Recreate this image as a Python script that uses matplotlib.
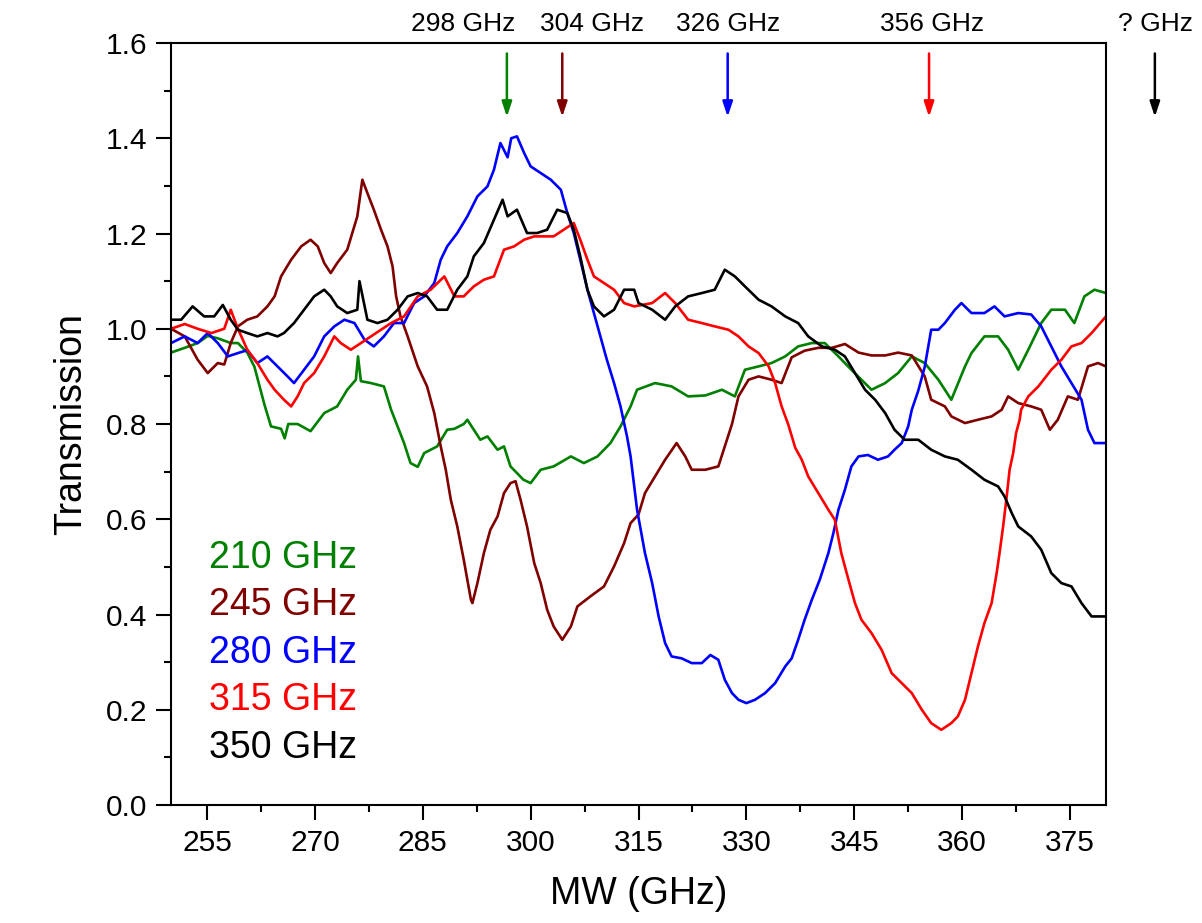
import numpy as np
import matplotlib
matplotlib.use('Agg')
import matplotlib.pyplot as plt

plt.rcParams['font.family'] = ['Liberation Sans', 'DejaVu Sans']

# ---- data (MW frequency in GHz, transmission) ----
f_210 = [250.0, 251.9, 253.7, 255.1, 256.5, 258.3, 259.3, 260.6, 261.6, 263.0, 263.9, 265.3, 265.8, 266.3,
         267.6, 269.4, 271.3, 273.1, 274.5, 275.7, 276.0, 276.4, 277.8, 279.6, 280.6, 282.4, 283.3, 284.3,
         285.2, 287.0, 288.4, 289.4, 290.7, 291.2, 293.0, 294.0, 295.4, 296.3, 297.2, 299.0, 300.0, 301.4,
         303.2, 305.6, 307.4, 309.3, 311.1, 312.5, 313.9, 314.8, 317.3, 319.6, 321.9, 324.3, 326.6, 328.4,
         329.8, 331.7, 333.5, 335.4, 337.2, 339.1, 340.9, 342.8, 344.6, 347.4, 349.3, 351.1, 353.0, 354.8,
         356.7, 358.5, 360.4, 361.3, 363.1, 365.0, 366.4, 367.8, 369.2, 371.0, 372.4, 374.3, 375.6, 377.0,
         378.4, 380.0]
t_210 = [0.95, 0.96, 0.97, 0.985, 0.98, 0.97, 0.97, 0.95, 0.92, 0.84, 0.795, 0.79, 0.77, 0.80,
         0.80, 0.785, 0.823, 0.837, 0.872, 0.893, 0.942, 0.89, 0.886, 0.879, 0.83, 0.76, 0.718, 0.71,
         0.739, 0.753, 0.788, 0.79, 0.80, 0.809, 0.767, 0.774, 0.746, 0.753, 0.711, 0.683, 0.676, 0.704,
         0.711, 0.732, 0.718, 0.732, 0.76, 0.795, 0.837, 0.872, 0.886, 0.879, 0.858, 0.86, 0.872, 0.858,
         0.914, 0.921, 0.928, 0.942, 0.963, 0.97, 0.97, 0.942, 0.914, 0.872, 0.886, 0.907, 0.942, 0.928,
         0.893, 0.851, 0.921, 0.949, 0.984, 0.984, 0.956, 0.914, 0.956, 1.012, 1.04, 1.04, 1.012, 1.068,
         1.082, 1.075]

f_245 = [250.0, 251.9, 253.7, 255.1, 256.5, 257.4, 258.3, 259.3, 260.6, 262.0, 263.4, 264.4, 265.3, 266.7,
         268.1, 269.4, 270.4, 271.3, 272.2, 273.1, 274.5, 275.9, 276.6, 277.3, 278.2, 279.2, 280.1, 280.8,
         281.3, 281.9, 282.9, 284.3, 285.6, 286.6, 287.5, 288.2, 288.9, 289.8, 290.7, 291.7, 291.9, 292.6,
         293.5, 294.4, 295.4, 296.3, 297.2, 297.9, 298.6, 299.5, 300.5, 301.4, 302.3, 303.2, 304.4, 305.6,
         306.5, 308.3, 310.2, 311.6, 313.0, 313.9, 315.0, 315.9, 317.3, 318.7, 320.3, 321.5, 322.4, 324.3,
         326.1, 327.0, 328.0, 328.9, 330.3, 331.7, 333.5, 334.9, 336.3, 338.1, 340.0, 341.9, 343.7, 345.6,
         347.4, 349.3, 351.1, 353.0, 354.8, 355.7, 357.6, 358.5, 360.4, 362.2, 364.1, 365.5, 366.4, 367.8,
         369.6, 371.0, 372.2, 373.3, 374.7, 376.1, 377.5, 378.9, 380.0]
t_245 = [1.0, 0.984, 0.935, 0.907, 0.928, 0.925, 0.97, 1.005, 1.019, 1.026, 1.047, 1.068, 1.11, 1.145,
         1.173, 1.187, 1.173, 1.138, 1.117, 1.138, 1.166, 1.236, 1.313, 1.285, 1.25, 1.208, 1.173, 1.131,
         1.068, 1.026, 0.984, 0.921, 0.879, 0.823, 0.753, 0.704, 0.641, 0.585, 0.515, 0.431, 0.424, 0.466,
         0.529, 0.578, 0.606, 0.655, 0.676, 0.68, 0.641, 0.585, 0.508, 0.466, 0.41, 0.375, 0.347, 0.375,
         0.417, 0.438, 0.459, 0.501, 0.55, 0.592, 0.61, 0.655, 0.69, 0.725, 0.76, 0.732, 0.704, 0.704,
         0.711, 0.753, 0.80, 0.858, 0.893, 0.90, 0.893, 0.886, 0.94, 0.954, 0.96, 0.96, 0.968, 0.95,
         0.944, 0.944, 0.95, 0.944, 0.90, 0.851, 0.837, 0.816, 0.802, 0.809, 0.816, 0.83, 0.858, 0.844,
         0.837, 0.83, 0.788, 0.809, 0.858, 0.851, 0.921, 0.928, 0.921]

f_280 = [250.0, 251.9, 253.7, 255.1, 256.5, 257.9, 259.3, 260.6, 262.0, 263.4, 264.8, 266.2, 267.1, 268.5,
         269.9, 271.3, 272.7, 274.1, 275.5, 276.9, 278.2, 279.6, 281.0, 282.4, 283.8, 285.2, 286.6, 287.5,
         288.4, 289.8, 291.2, 292.6, 294.0, 294.9, 295.8, 296.8, 297.3, 298.1, 299.1, 300.0, 301.4, 302.8,
         304.2, 305.1, 306.0, 306.9, 307.9, 308.8, 309.7, 310.6, 311.6, 312.5, 313.4, 313.9, 314.8, 315.9,
         316.9, 317.8, 318.7, 319.6, 321.0, 322.4, 323.8, 325.0, 326.1, 327.0, 328.0, 328.9, 330.0, 331.2,
         332.6, 334.0, 335.4, 336.3, 337.2, 338.1, 339.1, 340.2, 341.4, 342.1, 342.8, 343.7, 344.6, 345.6,
         346.9, 348.3, 349.7, 350.6, 351.6, 352.5, 353.0, 353.9, 354.8, 355.7, 356.7, 357.6, 359.0, 359.9,
         361.3, 363.1, 364.5, 365.9, 367.8, 369.6, 371.0, 372.4, 373.8, 375.2, 376.6, 377.5, 378.4, 380.0]
t_280 = [0.97, 0.984, 0.97, 0.991, 0.97, 0.942, 0.949, 0.955, 0.928, 0.942, 0.921, 0.90, 0.886, 0.914,
         0.942, 0.984, 1.005, 1.019, 1.012, 0.977, 0.963, 0.984, 1.012, 1.012, 1.054, 1.068, 1.096, 1.145,
         1.173, 1.201, 1.236, 1.278, 1.299, 1.334, 1.39, 1.36, 1.40, 1.404, 1.369, 1.341, 1.327, 1.313,
         1.292, 1.243, 1.201, 1.145, 1.082, 1.033, 0.984, 0.935, 0.886, 0.837, 0.774, 0.732, 0.62, 0.529,
         0.466, 0.396, 0.34, 0.312, 0.308, 0.298, 0.298, 0.315, 0.305, 0.263, 0.235, 0.221, 0.214, 0.221,
         0.235, 0.256, 0.291, 0.308, 0.347, 0.389, 0.431, 0.473, 0.529, 0.571, 0.62, 0.662, 0.711, 0.732,
         0.735, 0.725, 0.732, 0.746, 0.76, 0.795, 0.83, 0.87, 0.92, 0.998, 0.998, 1.012, 1.04, 1.054,
         1.033, 1.033, 1.047, 1.026, 1.033, 1.03, 1.005, 0.963, 0.921, 0.886, 0.851, 0.788, 0.76, 0.76]

f_315 = [250.0, 251.9, 253.7, 255.6, 257.4, 258.3, 259.3, 260.6, 262.0, 263.4, 264.4, 265.7, 266.7, 267.6,
         268.5, 269.9, 271.3, 272.7, 273.6, 275.0, 276.4, 277.8, 279.2, 280.6, 282.4, 284.3, 286.1, 288.0,
         289.4, 290.7, 292.1, 293.5, 294.9, 296.3, 297.7, 299.1, 300.5, 301.9, 303.2, 304.6, 306.0, 306.9,
         307.9, 308.8, 310.2, 311.6, 313.0, 314.4, 316.9, 318.7, 320.1, 321.9, 323.8, 325.6, 327.5, 328.9,
         330.3, 331.7, 333.1, 334.0, 334.9, 335.8, 336.8, 337.7, 338.6, 340.0, 341.4, 342.3, 343.2, 344.2,
         345.1, 346.0, 347.4, 348.8, 350.2, 351.6, 353.0, 354.4, 355.7, 357.1, 358.5, 359.4, 360.4, 361.3,
         362.2, 363.1, 364.1, 364.8, 365.2, 365.7, 366.2, 366.6, 367.1, 367.5, 368.0, 368.2, 369.2, 370.6,
         372.4, 373.8, 375.2, 376.6, 378.0, 380.0]
t_315 = [1.0, 1.01, 1.0, 0.991, 1.0, 1.04, 1.0, 0.956, 0.928, 0.893, 0.872, 0.851, 0.837, 0.858,
         0.886, 0.907, 0.942, 0.984, 0.97, 0.956, 0.97, 0.984, 0.998, 1.012, 1.026, 1.068, 1.082, 1.11,
         1.068, 1.068, 1.089, 1.103, 1.11, 1.166, 1.173, 1.187, 1.194, 1.194, 1.194, 1.208, 1.222, 1.187,
         1.145, 1.11, 1.096, 1.082, 1.054, 1.047, 1.054, 1.075, 1.054, 1.019, 1.012, 1.005, 0.998, 0.984,
         0.963, 0.949, 0.921, 0.886, 0.837, 0.800, 0.750, 0.725, 0.69, 0.655, 0.62, 0.599, 0.529, 0.473,
         0.424, 0.389, 0.361, 0.326, 0.277, 0.256, 0.235, 0.20, 0.172, 0.158, 0.172, 0.186, 0.221, 0.277,
         0.333, 0.382, 0.424, 0.487, 0.529, 0.585, 0.648, 0.704, 0.739, 0.781, 0.809, 0.83, 0.858, 0.879,
         0.914, 0.935, 0.963, 0.97, 0.991, 1.026]

f_350 = [250.0, 251.4, 253.0, 254.6, 256.0, 257.2, 258.3, 259.3, 260.6, 262.0, 263.4, 264.8, 265.7, 267.1,
         268.5, 269.9, 271.3, 272.2, 273.1, 274.5, 275.9, 276.2, 277.3, 278.7, 280.1, 281.5, 282.9, 284.3,
         285.6, 287.0, 288.4, 289.8, 291.2, 292.1, 293.5, 294.9, 296.1, 296.8, 298.1, 299.5, 300.9, 302.3,
         303.7, 305.1, 306.0, 306.9, 307.9, 308.8, 310.2, 311.6, 313.0, 314.4, 315.0, 316.9, 318.7, 320.1,
         321.9, 323.8, 325.6, 327.0, 328.4, 329.8, 331.7, 333.5, 335.4, 337.2, 338.6, 340.5, 342.3, 343.7,
         345.1, 346.5, 347.9, 349.3, 350.6, 352.0, 353.9, 355.7, 357.6, 359.4, 361.3, 363.1, 365.0, 365.9,
         366.9, 367.8, 369.6, 371.0, 372.4, 373.8, 375.2, 376.6, 378.0, 380.0]
t_350 = [1.019, 1.019, 1.047, 1.026, 1.026, 1.05, 1.019, 0.998, 0.991, 0.984, 0.991, 0.984, 0.991, 1.012,
         1.04, 1.068, 1.082, 1.068, 1.047, 1.033, 1.04, 1.10, 1.019, 1.012, 1.019, 1.04, 1.068, 1.075,
         1.068, 1.04, 1.04, 1.082, 1.11, 1.152, 1.18, 1.229, 1.271, 1.236, 1.25, 1.201, 1.201, 1.208,
         1.25, 1.243, 1.208, 1.152, 1.082, 1.047, 1.026, 1.04, 1.082, 1.082, 1.054, 1.04, 1.019, 1.047,
         1.068, 1.075, 1.082, 1.124, 1.11, 1.089, 1.061, 1.047, 1.026, 1.012, 0.984, 0.963, 0.956, 0.942,
         0.907, 0.872, 0.851, 0.823, 0.788, 0.767, 0.767, 0.746, 0.732, 0.725, 0.704, 0.683, 0.669, 0.648,
         0.613, 0.585, 0.564, 0.536, 0.487, 0.466, 0.459, 0.424, 0.396, 0.396]

series = [
    ('210 GHz', f_210, t_210, '#008000'),
    ('245 GHz', f_245, t_245, '#800000'),
    ('280 GHz', f_280, t_280, '#0000ff'),
    ('315 GHz', f_315, t_315, '#ff0000'),
    ('350 GHz', f_350, t_350, '#000000'),
]

# arrows marking the resonance positions
arrow_x = [296.7, 304.4, 327.4, 355.4, 386.8]
arrow_labels = ['298 GHz', '304 GHz', '326 GHz', '356 GHz', '? GHz']
arrow_label_x = [290.6, 308.6, 327.4, 355.8, 386.9]
arrow_colors = ['#008000', '#800000', '#0000ff', '#ff0000', '#000000']

fig = plt.figure(figsize=(12.02, 9.23), dpi=100)
ax = fig.add_axes([0.1423, 0.1278, 0.9201 - 0.1423, 0.9534 - 0.1278])

for name, f, t, c in series:
    ax.plot(f, t, color=c, lw=1.9)

ax.set_xlim(250, 380)
ax.set_ylim(0, 1.6)
ax.set_xticks(np.arange(255, 380, 15))
ax.set_xticks(np.arange(262.5, 380, 15), minor=True)
ax.set_yticks(np.arange(0, 1.61, 0.2))
ax.set_yticks(np.arange(0.1, 1.6, 0.2), minor=True)
ax.yaxis.set_major_formatter(matplotlib.ticker.FormatStrFormatter('%.1f'))
ax.tick_params(which='major', direction='out', length=11, width=1.5, labelsize=21.5, pad=6)
ax.tick_params(which='minor', direction='out', length=5, width=1.5)
ax.tick_params(top=False, right=False)
for s in ax.spines.values():
    s.set_linewidth(1.5)

ax.set_xlabel('MW (GHz)', fontsize=27, labelpad=14)
ax.set_ylabel('Transmission', fontsize=27, labelpad=12)

# coloured legend text
leg_y = [0.519, 0.42, 0.319, 0.221, 0.12]
for (name, f, t, c), y in zip(series, leg_y):
    ax.text(255.3, y, name, color=c, fontsize=27, ha='left', va='center')

for x, lab, lx, c in zip(arrow_x, arrow_labels, arrow_label_x, arrow_colors):
    ax.annotate('', xy=(x, 1.445), xytext=(x, 1.578), annotation_clip=False,
                arrowprops=dict(arrowstyle='-|>,head_length=0.9,head_width=0.3',
                                color=c, lw=1.8, shrinkA=0, shrinkB=0))
    ax.text(lx, 1.64, lab, fontsize=19, ha='center', va='center', clip_on=False)

fig.savefig('out.png', dpi=100)
